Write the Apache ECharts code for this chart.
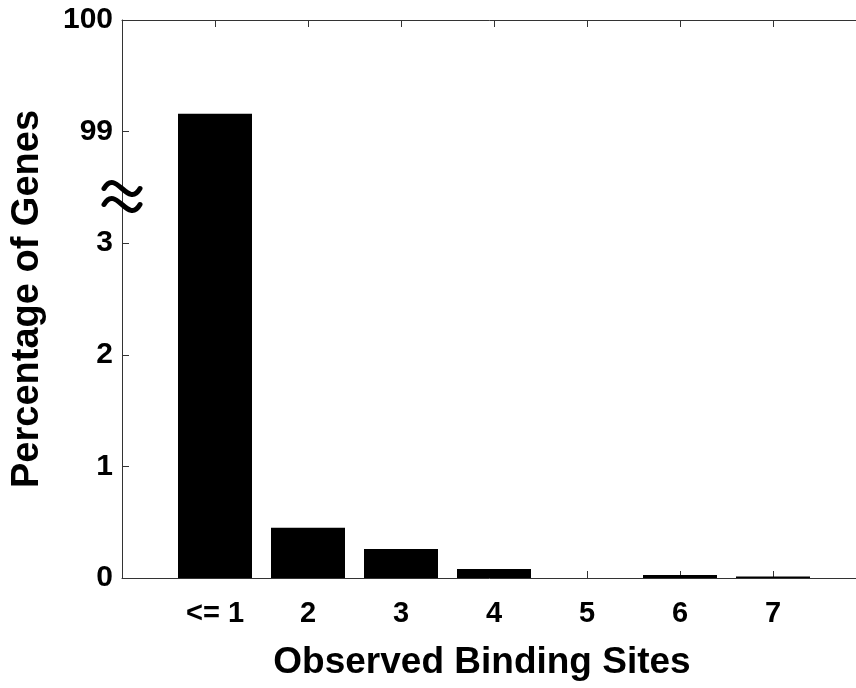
<!DOCTYPE html>
<html>
<head>
<meta charset="utf-8">
<script src="https://cdn.jsdelivr.net/npm/echarts@6/dist/echarts.min.js"></script>
<style>
  html, body { margin: 0; padding: 0; background: #fff; }
  #chart { width: 856px; height: 688px; }
</style>
</head>
<body>
<div id="chart"></div>
<script>
// Number of observed binding sites per gene
const categories = ['<= 1', '2', '3', '4', '5', '6', '7'];
const sitePositions = [1, 2, 3, 4, 5, 6, 7];
// Percentage of genes in each class
const percentages = [99.16, 0.45, 0.26, 0.08, 0, 0.027, 0.013];
// Labels of the broken y axis (0..3, gap, 99..100)
const yTickLabels = ['0', '1', '2', '3', '99', '100'];

// The y axis is cut between 3 and 99: values above the gap are shifted down
const BREAK_LOW = 3;
const BREAK_HIGH = 99;
function toAxis(v) {
  return v <= BREAK_LOW ? v : BREAK_LOW + 1 + (v - BREAK_HIGH);
}

const font = '"Liberation Sans", Arial, Helvetica, sans-serif';
const axisColor = '#333';

const chart = echarts.init(document.getElementById('chart'), null, { renderer: 'canvas' });

// Wavy "approximately equal" mark drawn across the y axis at the gap
function waveShape(cx, cy, w, k) {
  return {
    x1: cx - w / 2, y1: cy,
    cpx1: cx - w / 6, cpy1: cy - k,
    cpx2: cx + w / 6, cpy2: cy + k,
    x2: cx + w / 2, y2: cy
  };
}
const waveStyle = { stroke: '#000', lineWidth: 5, lineCap: 'round', fill: null };

chart.setOption({
  animation: false,
  backgroundColor: '#fff',
  grid: { left: 122, top: 20, width: 744, height: 558, outerBoundsMode: 'none' },
  xAxis: [
    {
      type: 'value', min: 0, max: 8, interval: 1,
      axisLine: { show: true, lineStyle: { color: axisColor, width: 1 } },
      axisTick: { show: true, inside: true, length: 7, lineStyle: { color: axisColor } },
      splitLine: { show: false },
      axisLabel: {
        margin: 21,
        fontFamily: font, fontWeight: 'bold', fontSize: 29, color: '#000',
        formatter: function (v) {
          const i = sitePositions.indexOf(v);
          return i >= 0 ? categories[i] : '';
        }
      }
    },
    {
      type: 'value', min: 0, max: 8, interval: 1, position: 'top',
      axisLine: { show: true, lineStyle: { color: axisColor, width: 1 } },
      axisTick: { show: true, inside: true, length: 7, lineStyle: { color: axisColor } },
      axisLabel: { show: false },
      splitLine: { show: false }
    }
  ],
  yAxis: {
    type: 'value', min: 0, max: 5, interval: 1,
    axisLine: { show: true, lineStyle: { color: axisColor, width: 1 } },
    axisTick: { show: true, inside: true, length: 7, lineStyle: { color: axisColor } },
    splitLine: { show: false },
    axisLabel: {
      margin: 9,
      fontFamily: font, fontWeight: 'bold', fontSize: 30, color: '#000',
      formatter: function (v) { return yTickLabels[Math.round(v)]; }
    }
  },
  series: [{
    type: 'bar',
    xAxisIndex: 0,
    barWidth: 74,
    itemStyle: { color: '#000' },
    data: percentages.map(function (p, i) { return [sitePositions[i], toAxis(p)]; })
  }],
  graphic: [
    { type: 'bezierCurve', z: 10, shape: waveShape(122, 188.5, 36, 21), style: waveStyle },
    { type: 'bezierCurve', z: 10, shape: waveShape(122, 204.5, 36, 21), style: waveStyle },
    {
      type: 'text', x: 482, y: 663,
      style: {
        text: 'Observed Binding Sites', font: 'bold 37px ' + font, fill: '#000',
        align: 'center', verticalAlign: 'middle'
      }
    },
    {
      type: 'text', x: 28, y: 299, rotation: Math.PI / 2,
      style: {
        text: 'Percentage of Genes', font: 'bold 38px ' + font, fill: '#000',
        align: 'center', verticalAlign: 'middle'
      }
    }
  ]
});
</script>
</body>
</html>
